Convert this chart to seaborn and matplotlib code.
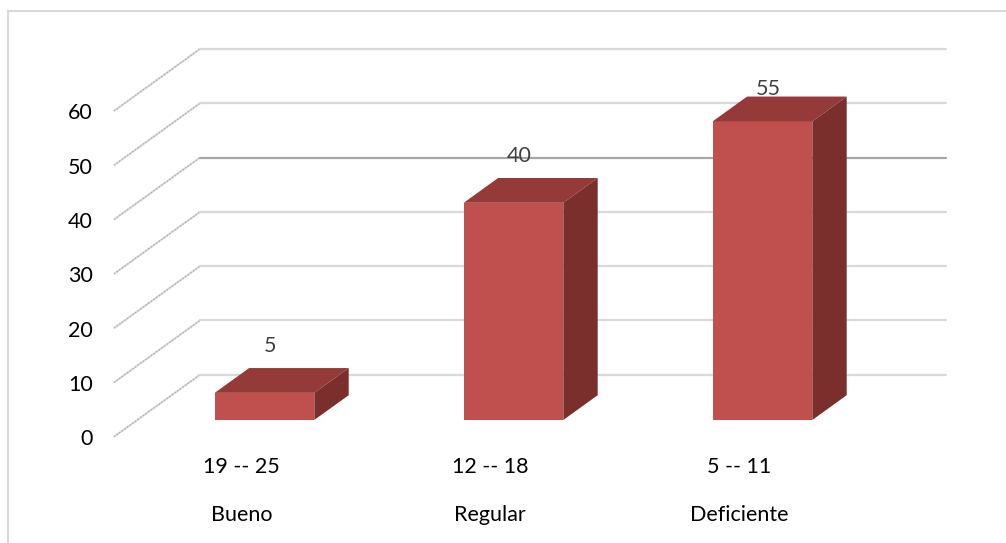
import numpy as np
import pandas as pd
import seaborn as sns
import matplotlib
matplotlib.use("Agg")
import matplotlib.pyplot as plt
from matplotlib.patches import Polygon, Rectangle

# ---- data -------------------------------------------------------------
ranges = ["19 -- 25", "12 -- 18", "5 -- 11"]
levels = ["Bueno", "Regular", "Deficiente"]
values = [5, 40, 55]
yticks = [0, 10, 20, 30, 40, 50, 60]

# ---- styling ----------------------------------------------------------
FRONT = "#c0504d"
TOP = "#943a38"
SIDE = "#7a2f2d"
GRID = "#d9d9d9"
GRID_DARK = "#a6a6a6"
TEXT = "#000000"
LABEL = "#404040"
FS = 15.5

sns.set_theme(style="white")
plt.rcParams["font.family"] = ["Lato", "DejaVu Sans"]

W, H, DPI = 1006, 543, 100
fig = plt.figure(figsize=(W / DPI, H / DPI), dpi=DPI)
ax = fig.add_axes([0, 0, 1, 1])

# pixel geometry of the oblique projection (bar front plane is the data plane)
PX_CAT = 249.0          # pixels per category step
PX_VAL = 5.43           # pixels per value unit
X0_PX, Y0_PX = 264.5, 420.0   # pixel of (first category, value 0)
DEPTH_PX = (86.0, 62.0)       # full floor depth, right/up in pixels
F_FRONT, F_BACK = 0.27, 0.67  # depth fractions of bar front / back faces
BAR_W = 0.40

XLIM = (-X0_PX / PX_CAT, (W - X0_PX) / PX_CAT)
YLIM = (-(H - Y0_PX) / PX_VAL, Y0_PX / PX_VAL)

dx_full = DEPTH_PX[0] / PX_CAT
dy_full = DEPTH_PX[1] / PX_VAL

# wall geometry
wall_left_front = (114 - X0_PX) / PX_CAT
wall_right_back = (946 - X0_PX) / PX_CAT

for v in yticks:
    col = GRID_DARK if v == 40 else GRID
    # front-plane point and back-wall point for this value
    xf = wall_left_front
    yf = v - F_FRONT * dy_full
    xb = xf + dx_full
    yb = v + (1 - F_FRONT) * dy_full
    ax.plot([xf, xb], [yf, yb], color="#d6d6d6", lw=1.4, zorder=1,
            solid_capstyle="butt")
    ax.plot([xf, xb], [yf, yb], color="#ababab", lw=0.9,
            linestyle=(0, (1.0, 1.6)), zorder=1)
    ax.plot([xb, wall_right_back], [yb, yb], color=col, lw=1.6, zorder=1)
    ax.text(xf - 21 / PX_CAT, yf - 0.45, str(v), ha="right", va="center",
            fontsize=FS, color=TEXT)

# front faces drawn by seaborn
df = pd.DataFrame({"nivel": levels, "valor": values})
sns.barplot(data=df, x="nivel", y="valor", order=levels, color=FRONT,
            saturation=1, width=BAR_W, ax=ax, zorder=3)
ax.set_xlim(*XLIM)
ax.set_ylim(*YLIM)
ax.set_axis_off()

ddx = (F_BACK - F_FRONT) * dx_full
ddy = (F_BACK - F_FRONT) * dy_full
for p, v in zip(ax.patches, values):
    p.set_edgecolor("none")
    x0 = p.get_x()
    x1 = x0 + p.get_width()
    h = p.get_height()
    top = Polygon([(x0, h), (x1, h), (x1 + ddx, h + ddy), (x0 + ddx, h + ddy)],
                  closed=True, facecolor=TOP, edgecolor="none", zorder=3)
    side = Polygon([(x1, 0), (x1 + ddx, ddy), (x1 + ddx, h + ddy), (x1, h)],
                   closed=True, facecolor=SIDE, edgecolor="none", zorder=3)
    ax.add_patch(top)
    ax.add_patch(side)
    # value label above the bar, kept inside the plot area
    ly = min(v + 8.6, 61.0)
    ax.text(x0 + p.get_width() / 2 + 0.022, ly, str(v), ha="center",
            va="center", fontsize=FS, color=LABEL, zorder=4)

# category labels on the front floor edge
for i, (r, lv) in enumerate(zip(ranges, levels)):
    xc = i - F_FRONT * dx_full
    ax.text(xc, (Y0_PX - 467) / PX_VAL, r, ha="center", va="center",
            fontsize=FS, color=TEXT)
    ax.text(xc, (Y0_PX - 515) / PX_VAL, lv, ha="center", va="center",
            fontsize=FS, color=TEXT)

# chart frame
fig.patches.append(Rectangle((8 / W, -0.1), 1.2, 1 - 11 / H + 0.1,
                             transform=fig.transFigure, fill=False,
                             edgecolor=GRID, lw=1.5))

fig.savefig("out.png", dpi=DPI, facecolor="white")
